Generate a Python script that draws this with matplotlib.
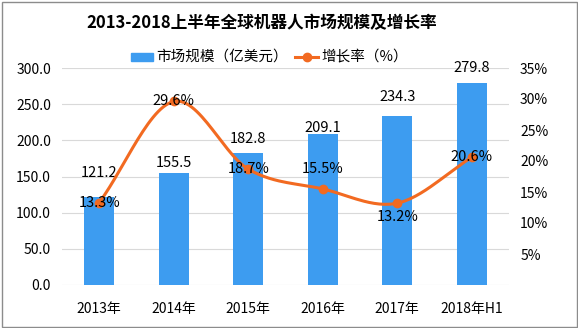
import numpy as np
import matplotlib.pyplot as plt
from matplotlib.patches import Rectangle

plt.rcParams['font.family'] = ['Noto Sans CJK SC', 'DejaVu Sans']

years = ['2013年', '2014年', '2015年', '2016年', '2017年', '2018年H1']
market = [121.2, 155.5, 182.8, 209.1, 234.3, 279.8]
growth = [13.3, 29.6, 18.7, 15.5, 13.2, 20.6]

bar_color = '#3d9cf0'
line_color = '#f26a21'

# label nudges in pixels (bars: above top; rates: vertical shift)
bar_lbl_dy = [24, 10, 14, 6, 19, 15]
rate_lbl_dy = [0, 0, 0, 20, -14, 0]


def smooth(xs, ys, n=30):
    # Catmull-Rom style curve through the points, like a smoothed line chart
    xs = np.asarray(xs, float)
    ys = np.asarray(ys, float)
    px = np.concatenate([[2 * xs[0] - xs[1]], xs, [2 * xs[-1] - xs[-2]]])
    py = np.concatenate([[2 * ys[0] - ys[1]], ys, [2 * ys[-1] - ys[-2]]])
    ox, oy = [], []
    for i in range(1, len(px) - 2):
        t = np.linspace(0, 1, n)
        for p, out in ((px, ox), (py, oy)):
            p0, p1, p2, p3 = p[i - 1], p[i], p[i + 1], p[i + 2]
            c1 = p1 + (p2 - p0) / 6
            c2 = p2 - (p3 - p1) / 6
            out.extend((1 - t) ** 3 * p1 + 3 * (1 - t) ** 2 * t * c1
                       + 3 * (1 - t) * t ** 2 * c2 + t ** 3 * p2)
    return np.array(ox), np.array(oy)


fig = plt.figure(figsize=(5.78, 3.28), dpi=100)
ax = fig.add_axes([62 / 578, 1 - 285 / 328, 447 / 578, 217 / 328])
x = np.arange(len(years))

ax.bar(x, market, width=0.4, color=bar_color, zorder=2)
ax.set_ylim(0, 300)
ax.set_xlim(-0.5, len(years) - 0.5)
ax.set_yticks(np.arange(0, 301, 50))
ax.set_yticklabels([f'{v:.1f}' for v in np.arange(0, 301, 50)])
ax.set_xticks(x)
ax.set_xticklabels(years)
ax.grid(axis='y', color='#d9d9d9', lw=0.8, zorder=0)
for s in ax.spines.values():
    s.set_visible(False)
ax.tick_params(length=0, labelsize=10, pad=8)
ax.tick_params(axis='x', pad=12)

for xi, v, dy in zip(x, market, bar_lbl_dy):
    ax.annotate(f'{v:.1f}', (xi, v), xytext=(0, dy * 0.72), textcoords='offset points',
                ha='center', va='center', fontsize=10.5, zorder=5)

ax2 = ax.twinx()
ax2.set_ylim(0, 35)
ax2.set_yticks(np.arange(5, 36, 5))
ax2.set_yticklabels([f'{v}%' for v in range(5, 36, 5)])
for s in ax2.spines.values():
    s.set_visible(False)
ax2.tick_params(length=0, labelsize=10, pad=8)

sx, sy = smooth(x, growth)
ax2.plot(sx, sy, color=line_color, lw=2.2, zorder=3)
ax2.plot(x, growth, 'o', color=line_color, ms=6, zorder=4)
for xi, v, dy in zip(x, growth, rate_lbl_dy):
    ax2.annotate(f'{v}%', (xi, v), xytext=(0, dy * 0.72), textcoords='offset points',
                 ha='center', va='center', fontsize=10.5, zorder=5)

fig.text(262 / 578, 1 - 23 / 328, '2013-2018上半年全球机器人市场规模及增长率',
         ha='center', va='center', fontsize=12, fontweight='bold')

# legend
fig.patches.append(Rectangle((131 / 578, 1 - 61 / 328), 22 / 578, 8 / 328,
                             transform=fig.transFigure, color=bar_color))
fig.text(156 / 578, 1 - 57 / 328, '市场规模（亿美元）', va='center', fontsize=10.5)
fig.lines.append(plt.Line2D([295 / 578, 318 / 578], [1 - 57 / 328] * 2,
                            transform=fig.transFigure, color=line_color, lw=2.2))
fig.lines.append(plt.Line2D([306.5 / 578], [1 - 57 / 328], transform=fig.transFigure,
                            marker='o', color=line_color, ms=6))
fig.text(321 / 578, 1 - 57 / 328, '增长率（%）', va='center', fontsize=10.5)

# outer frame
fig.patches.append(Rectangle((1.5 / 578, 1.5 / 328), 575 / 578, 325 / 328, fill=False,
                             edgecolor='#8c8c8c', lw=1, transform=fig.transFigure))

fig.savefig('out.png', dpi=100)
